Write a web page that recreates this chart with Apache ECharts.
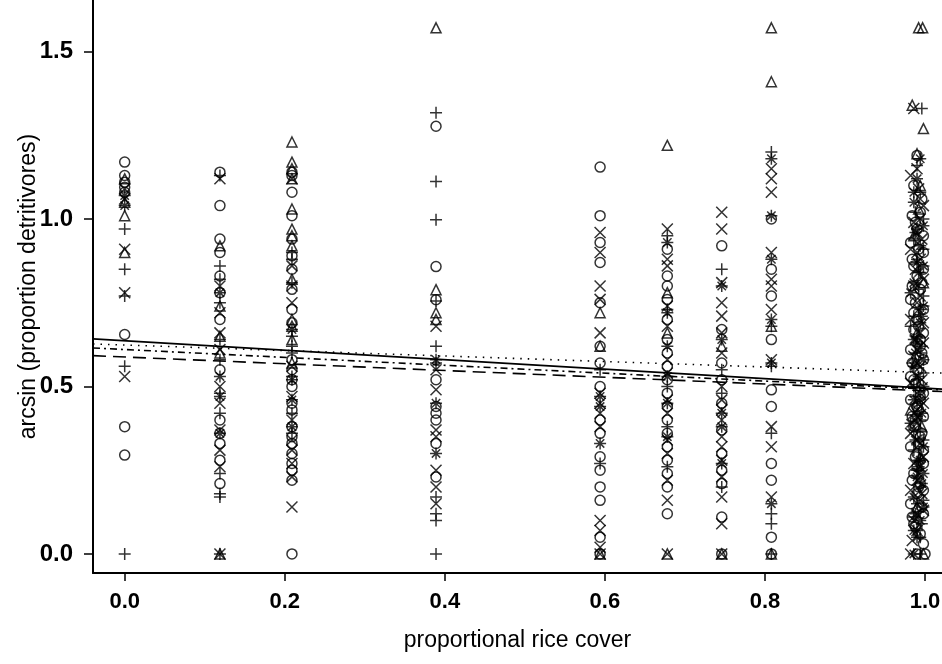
<!DOCTYPE html>
<html><head><meta charset="utf-8">
<script src="https://cdn.jsdelivr.net/npm/echarts@6/dist/echarts.min.js"></script>
<style>html,body{margin:0;padding:0;background:#fff}#c{width:942px;height:664px}</style>
</head><body><div id="c"></div>
<script>
// ---- data ----
const xTickLabels = [0, 0.2, 0.4, 0.6, 0.8, 1.0];
const yTickLabels = [0, 0.5, 1.0, 1.5];
const colX = [0, 0.119, 0.209, 0.389, 0.594, 0.678, 0.746, 0.808];
const circleY = [
  [1.17, 1.13, 1.11, 1.095, 1.08, 0.655, 0.38, 0.295],
  [1.14, 1.04, 0.94, 0.90, 0.83, 0.78, 0.70, 0.55, 0.40, 0.36, 0.33, 0.28, 0.21],
  [1.14, 1.13, 1.08, 1.01, 0.94, 0.89, 0.85, 0.79, 0.73, 0.69, 0.58, 0.55, 0.52, 0.50, 0.45, 0.43, 0.38, 0.35, 0.33, 0.30, 0.27, 0.25, 0.22, 0.0],
  [1.277, 0.858, 0.759, 0.52, 0.44, 0.42, 0.40, 0.33, 0.23],
  [1.155, 1.01, 0.93, 0.87, 0.75, 0.62, 0.57, 0.50, 0.40, 0.36, 0.29, 0.25, 0.20, 0.16, 0.05, 0.0],
  [0.91, 0.83, 0.80, 0.76, 0.70, 0.64, 0.60, 0.56, 0.52, 0.48, 0.44, 0.40, 0.36, 0.32, 0.28, 0.24, 0.20, 0.12],
  [0.92, 0.67, 0.57, 0.52, 0.45, 0.37, 0.30, 0.25, 0.21, 0.11, 0.0],
  [1.00, 0.85, 0.77, 0.64, 0.49, 0.44, 0.27, 0.22, 0.05, 0.0]
];
const triangleY = [
  [1.12, 1.05, 1.01, 0.90],
  [0.92, 0.74, 0.65, 0.60, 0.0],
  [1.23, 1.17, 1.15, 1.12, 1.03, 0.97, 0.95, 0.92, 0.82, 0.70, 0.68, 0.64, 0.57],
  [1.571, 0.789, 0.72, 0.70],
  [0.72, 0.62, 0.0],
  [1.22, 0.78, 0.66, 0.0],
  [0.62, 0.0],
  [1.571, 1.41, 0.68, 0.0]
];
const plusY = [
  [0.97, 0.85, 0.77, 0.56, 0.0],
  [1.13, 0.86, 0.82, 0.75, 0.64, 0.58, 0.48, 0.42, 0.24, 0.18, 0.17, 0.0],
  [0.90, 0.88, 0.81, 0.65, 0.62, 0.60, 0.53, 0.42, 0.36],
  [1.317, 1.112, 0.998, 0.755, 0.62, 0.57, 0.17, 0.12, 0.10, 0.0],
  [0.55, 0.27],
  [0.95, 0.73, 0.50, 0.38, 0.26],
  [0.85, 0.55, 0.48, 0.20],
  [1.20, 0.68, 0.56, 0.36, 0.12, 0.09, 0.0]
];
const crossY = [
  [1.09, 1.06, 0.91, 0.78, 0.53],
  [1.12, 0.80, 0.72, 0.66, 0.61, 0.50, 0.45, 0.37, 0.31, 0.26, 0.0],
  [1.12, 0.86, 0.80, 0.75, 0.56, 0.47, 0.40, 0.34, 0.31, 0.27, 0.23, 0.14],
  [0.68, 0.55, 0.49, 0.37, 0.35, 0.25, 0.20, 0.15],
  [0.96, 0.90, 0.80, 0.76, 0.66, 0.48, 0.45, 0.42, 0.38, 0.10, 0.07, 0.02, 0.0],
  [0.97, 0.88, 0.86, 0.74, 0.68, 0.58, 0.54, 0.46, 0.42, 0.34, 0.30, 0.22, 0.16, 0.0],
  [1.02, 0.97, 0.81, 0.75, 0.71, 0.66, 0.60, 0.50, 0.46, 0.43, 0.40, 0.35, 0.32, 0.28, 0.23, 0.17, 0.09, 0.0],
  [1.15, 1.12, 1.08, 0.90, 0.82, 0.80, 0.73, 0.58, 0.38, 0.32, 0.17]
];
const starY = [
  [1.07, 1.04],
  [0.78, 0.53, 0.47, 0.36],
  [0.67, 0.52, 0.46, 0.38],
  [0.58, 0.45, 0.30],
  [0.47, 0.44, 0.33],
  [0.93, 0.72, 0.62, 0.53, 0.45, 0.35],
  [0.80, 0.64, 0.42, 0.38, 0.27],
  [1.18, 1.01, 0.88, 0.70, 0.57, 0.15]
];
// dense column near full rice cover: [x, y]
const clusterCircle = [[0.986,1.10],[0.994,1.02],[0.99,0.97],[0.982,0.93],[0.998,0.90],[0.986,0.86],[0.99,0.83],[0.994,0.79],[0.982,0.76],[0.998,0.73],[0.99,0.70],[0.986,0.67],[0.994,0.64],[0.982,0.61],[0.998,0.58],[0.99,0.55],[0.986,0.52],[0.994,0.49],[0.982,0.46],[0.99,0.44],[0.998,0.41],[0.986,0.38],[0.994,0.35],[0.982,0.32],[0.99,0.30],[0.998,0.27],[0.986,0.24],[0.994,0.21],[0.99,0.18],[0.982,0.15],[0.998,0.12],[0.986,0.09],[0.994,0.06],[0.99,0.0],[1.0,0.0],[0.986,0.72],[0.994,0.47],[0.99,0.26],[0.982,0.53],[0.998,0.85],[0.99,1.19],[0.994,0.62],
  [0.996,1.06],[0.988,0.99],[0.992,0.91],[0.996,0.81],[0.988,0.75],[0.992,0.68],[0.996,0.60],[0.988,0.51],[0.992,0.43],[0.996,0.36],[0.988,0.29],[0.992,0.20],[0.996,0.14],[0.988,0.08],[0.992,0.33],[0.984,0.88],
  [0.984,1.01],[0.998,0.95],[0.984,0.80],[0.998,0.66],[0.984,0.57],[0.998,0.48],[0.984,0.41],[0.998,0.31],[0.984,0.22],[0.998,0.19],[0.984,0.11],[0.998,0.03]];
const clusterTriangle = [[0.992,1.571],[0.997,1.571],[0.984,1.34],[0.998,1.27],[0.99,1.195],[0.994,1.10],[0.986,0.95],[0.998,0.81],[0.99,0.66],[0.982,0.43],[0.994,0.29],[0.99,0.14],[0.998,0.0],[0.992,1.03],[0.988,0.57],[0.996,0.38]];
const clusterPlus = [[0.996,1.33],[0.99,1.16],[0.994,1.08],[0.998,1.00],[0.986,0.94],[0.99,0.88],[0.994,0.84],[0.998,0.77],[0.986,0.71],[0.99,0.65],[0.994,0.60],[0.998,0.54],[0.986,0.50],[0.99,0.45],[0.994,0.40],[0.998,0.34],[0.986,0.31],[0.99,0.25],[0.994,0.20],[0.998,0.16],[0.986,0.11],[0.99,0.07],[0.994,0.0],[0.982,0.68],[0.998,0.91],
  [0.988,1.02],[0.992,0.79],[0.996,0.62],[0.988,0.47],[0.992,0.28],[0.996,0.09],[0.984,0.57],
  [0.99,0.97],[0.994,0.73],[0.99,0.52],[0.994,0.37],[0.99,0.15],[0.994,0.05]];
const clusterCross = [[0.986,1.33],[0.99,1.15],[0.982,1.13],[0.994,1.06],[0.998,1.04],[0.986,0.99],[0.99,0.96],[0.982,0.91],[0.994,0.88],[0.998,0.82],[0.986,0.80],[0.99,0.75],[0.982,0.70],[0.994,0.66],[0.998,0.63],[0.986,0.59],[0.99,0.57],[0.982,0.51],[0.994,0.48],[0.998,0.45],[0.986,0.42],[0.99,0.39],[0.982,0.36],[0.994,0.33],[0.998,0.29],[0.986,0.27],[0.99,0.22],[0.982,0.19],[0.994,0.16],[0.998,0.13],[0.986,0.10],[0.99,0.07],[0.982,0.0],[0.994,0.56],[0.998,0.69],[0.99,0.43],
  [0.992,1.09],[0.996,0.94],[0.988,0.85],[0.992,0.73],[0.996,0.52],[0.988,0.40],[0.992,0.24],[0.996,0.18],[0.984,0.04],[0.988,0.64],
  [0.994,1.00],[0.99,0.90],[0.994,0.77],[0.99,0.61],[0.994,0.44],[0.99,0.34],[0.994,0.26],[0.99,0.12]];
const clusterStar = [[0.994,1.18],[0.99,1.12],[0.986,1.05],[0.998,0.98],[0.994,0.92],[0.99,0.87],[0.986,0.81],[0.998,0.74],[0.994,0.69],[0.99,0.63],[0.986,0.56],[0.998,0.50],[0.994,0.46],[0.99,0.41],[0.986,0.37],[0.998,0.32],[0.994,0.28],[0.99,0.23],[0.986,0.17],[0.998,0.14],[0.994,0.10],[0.99,0.05],[0.986,0.0],[0.982,0.78],[0.982,0.39],
  [0.988,0.96],[0.992,0.84],[0.996,0.71],[0.988,0.60],[0.992,0.53],[0.996,0.42],[0.988,0.34],[0.992,0.26],[0.996,0.21],[0.988,0.12],
  [0.986,1.08],[0.998,0.86],[0.986,0.64],[0.998,0.58],[0.986,0.46],[0.998,0.24],[0.986,0.07]];
// regression lines: [x, y] end points
const lineSolid   = [[-0.0396, 0.642], [1.0212, 0.492]];
const lineDotted  = [[-0.0396, 0.627], [1.0212, 0.540]];
const lineDashed  = [[-0.0396, 0.592], [1.0212, 0.485]];
const lineDashDot = [[-0.0396, 0.615], [1.0212, 0.490]];

// ---- build ----
function pts(colVals, extra) {
  const out = [];
  colVals.forEach((vals, i) => vals.forEach(v => out.push([colX[i], v])));
  return out.concat(extra);
}
const hollow = {color: 'rgba(0,0,0,0)', borderColor: '#000', borderWidth: 1.5};
const PLUS = 'path://M0,5L10,5M5,0L5,10';
const CROSS = 'path://M0,0L10,10M10,0L0,10';
const STAR = 'path://M0,5L10,5M5,0L5,10M1.5,1.5L8.5,8.5M8.5,1.5L1.5,8.5';
function scat(name, symbol, size, data) {
  return {name, type: 'scatter', symbol, symbolSize: size, data, itemStyle: hollow, silent: true, animation: false, z: 2};
}
function line(data, type) {
  return {type: 'line', data, symbol: 'none', silent: true, animation: false, z: 3,
    lineStyle: {color: '#000', width: 1.6, type}};
}
const chart = echarts.init(document.getElementById('c'), null, {renderer: 'canvas'});
const font = 'Liberation Sans, Arial, sans-serif';
chart.setOption({
  backgroundColor: '#fff',
  grid: {left: 93, right: 0, top: 0, bottom: 91, containLabel: false, outerBoundsMode: 'none'},
  xAxis: {
    type: 'value', min: -0.0396, max: 1.0212,
    name: 'proportional rice cover', nameLocation: 'middle', nameGap: 56, nameMoveOverlap: false,
    nameTextStyle: {fontFamily: font, fontSize: 23, color: '#000'},
    splitLine: {show: false},
    axisLine: {show: true, onZero: false, lineStyle: {color: '#000', width: 2}},
    axisTick: {show: true, length: 8, lineStyle: {color: '#000', width: 1.5}, customValues: xTickLabels},
    axisLabel: {color: '#000', fontFamily: font, fontSize: 22, fontWeight: 'bold', margin: 18, customValues: xTickLabels,
      formatter: v => v.toFixed(1)}
  },
  yAxis: {
    type: 'value', min: -0.057, max: 1.654,
    name: 'arcsin (proportion detritivores)', nameLocation: 'middle', nameGap: 53, nameRotate: 90, nameMoveOverlap: false,
    nameTextStyle: {fontFamily: font, fontSize: 23, color: '#000'},
    splitLine: {show: false},
    axisLine: {show: true, onZero: false, lineStyle: {color: '#000', width: 2}},
    axisTick: {show: true, length: 9, lineStyle: {color: '#000', width: 1.5}, customValues: yTickLabels},
    axisLabel: {color: '#000', fontFamily: font, fontSize: 24, fontWeight: 'bold', margin: 20, customValues: yTickLabels,
      formatter: v => v.toFixed(1)}
  },
  series: [
    scat('circle', 'circle', 10, pts(circleY, clusterCircle)),
    scat('triangle', 'triangle', 10, pts(triangleY, clusterTriangle)),
    scat('plus', PLUS, 12, pts(plusY, clusterPlus)),
    scat('cross', CROSS, 11, pts(crossY, clusterCross)),
    scat('star', STAR, 12, pts(starY, clusterStar)),
    line(lineSolid, 'solid'),
    line(lineDotted, [1.5, 6]),
    line(lineDashed, [13, 7]),
    line(lineDashDot, [7, 4, 2, 4])
  ]
});
</script></body></html>
